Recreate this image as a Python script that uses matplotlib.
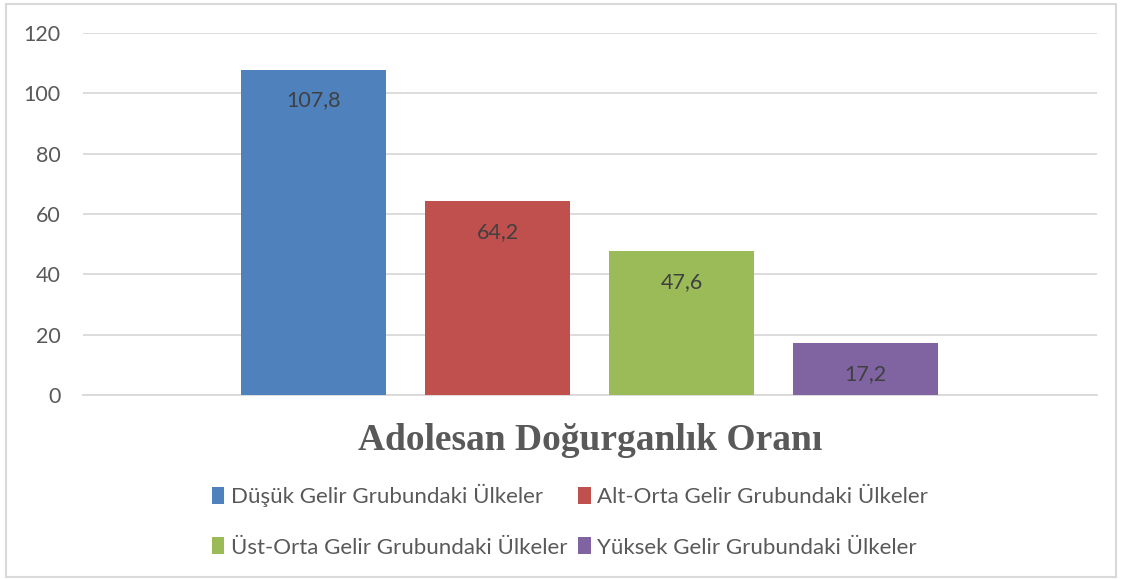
import matplotlib.pyplot as plt
from matplotlib.patches import Rectangle

# data
groups = ['Düşük Gelir Grubundaki Ülkeler',
          'Alt-Orta Gelir Grubundaki Ülkeler',
          'Üst-Orta Gelir Grubundaki Ülkeler',
          'Yüksek Gelir Grubundaki Ülkeler']
rates = [107.8, 64.2, 47.6, 17.2]
labels = ['107,8', '64,2', '47,6', '17,2']
colors = ['#4F81BD', '#C0504D', '#9BBB59', '#8064A2']
yticks = [0, 20, 40, 60, 80, 100, 120]

TEXT = '#595959'
GRID = '#D9D9D9'

plt.rcParams['font.family'] = ['Lato', 'DejaVu Sans']

fig = plt.figure(figsize=(11.22, 5.79), dpi=100)
ax = fig.add_axes([83/1122, 1 - 395/579, (1097 - 83)/1122, (395 - 33)/579])

xs = list(range(len(rates)))
bars = ax.bar(xs, rates, width=0.788, color=colors, zorder=3)

for b, txt in zip(bars, labels):
    ax.annotate(txt, (b.get_x() + b.get_width()/2, b.get_height()),
                xytext=(0, -22), textcoords='offset points',
                ha='center', va='center', fontsize=15.5, color='#404040', zorder=4)

ax.set_xlim(-1.255, 3 + 1.258)
ax.set_ylim(0, 120)
ax.set_yticks(yticks)
ax.set_xticks([])
ax.tick_params(axis='y', length=0, pad=16, labelsize=15.5, labelcolor=TEXT)
ax.grid(axis='y', color=GRID, linewidth=1.3, zorder=0)
for s in ['top', 'left', 'right']:
    ax.spines[s].set_visible(False)
ax.spines['bottom'].set_color(GRID)
ax.spines['bottom'].set_linewidth(1.3)

fig.text(590/1122, 1 - 440/579, 'Adolesan Doğurganlık Oranı',
         family='Liberation Serif', fontweight='bold', fontsize=27,
         color=TEXT, ha='center', va='center')

# legend is filled row by row in the reference
order = [0, 2, 1, 3]
leg = fig.legend(handles=[bars[i] for i in order],
                 labels=[groups[i] for i in order], ncol=2, loc='center',
                 bbox_to_anchor=(570/1122, 1 - 521/579), frameon=False,
                 fontsize=16, labelcolor=TEXT, handlelength=0.55,
                 handleheight=0.8, handletextpad=0.3, columnspacing=0.5,
                 labelspacing=1.35)

fig.patches.append(Rectangle((6/1122, 2/579), 1110/1122, 573/579,
                             transform=fig.transFigure, fill=False,
                             edgecolor=GRID, linewidth=1.5))

fig.savefig('out.png', dpi=100)
